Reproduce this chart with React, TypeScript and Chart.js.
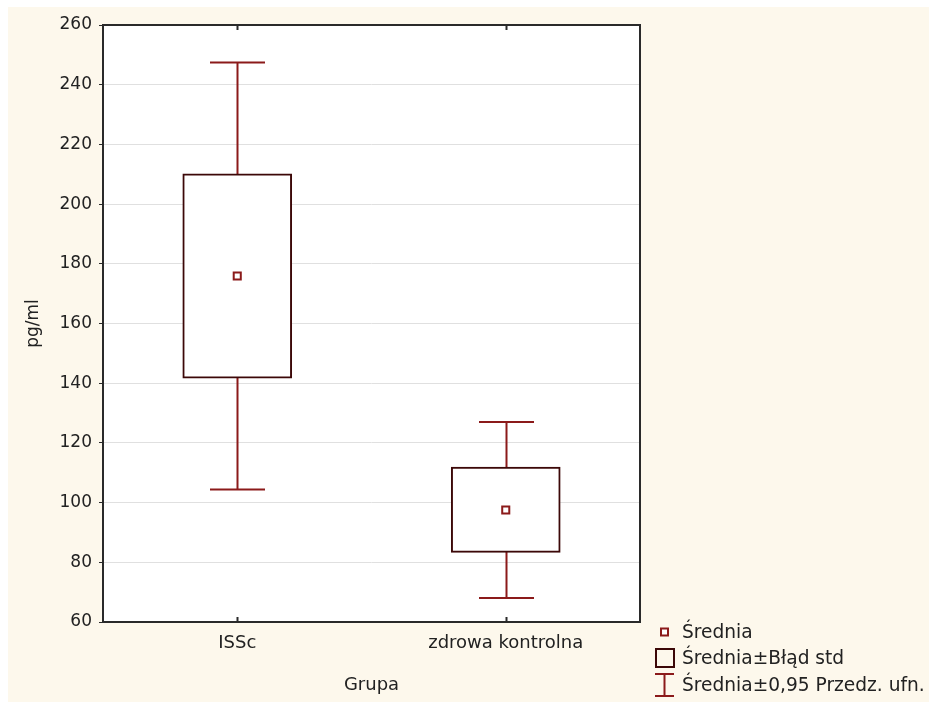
import React, { useEffect, useRef } from "react";
import { Chart, registerables } from "chart.js";

Chart.register(...registerables);

const categories = ["ISSc", "zdrowa kontrolna"];
const means = [175.9, 97.5];
const seLow = [141.7, 83.3];
const seHigh = [210.1, 111.9];
const ciLow = [104.4, 68.0];
const ciHigh = [247.4, 127.0];
const yMin = 60;
const yMax = 260;
const yStep = 20;
const yTitle = "pg/ml";
const xTitle = "Grupa";
const legendLabels = ["Średnia", "Średnia±Błąd std", "Średnia±0,95 Przedz. ufn."];

const FONT = "'DejaVu Sans', 'Liberation Sans', Arial, sans-serif";
const CREAM = "#fdf8ec";
const WHISK = "#8b1a1a";
const BOXC = "#3c0808";
const TEXT = "#222222";

const boxPlugin = {
  id: "boxPlugin",
  beforeDraw(chart: any) {
    const { ctx, chartArea: a, width, height } = chart;
    ctx.save();
    ctx.fillStyle = CREAM;
    ctx.fillRect(0, 0, width, height);
    ctx.fillStyle = "#ffffff";
    ctx.fillRect(a.left, a.top, a.right - a.left, a.bottom - a.top);
    ctx.restore();
  },
  beforeDatasetsDraw(chart: any) {
    const { ctx } = chart;
    const xs = chart.scales.x;
    const ys = chart.scales.y;
    ctx.save();
    ctx.strokeStyle = WHISK;
    ctx.lineWidth = 2;
    categories.forEach((_, i) => {
      const x = Math.round(xs.getPixelForValue(i)) + 0.5;
      const yl = ys.getPixelForValue(ciLow[i]);
      const yh = ys.getPixelForValue(ciHigh[i]);
      const cap = 27.5;
      ctx.beginPath();
      ctx.moveTo(x, yl);
      ctx.lineTo(x, yh);
      ctx.moveTo(x - cap, yl);
      ctx.lineTo(x + cap, yl);
      ctx.moveTo(x - cap, yh);
      ctx.lineTo(x + cap, yh);
      ctx.stroke();
    });
    ctx.restore();
  },
  afterDatasetsDraw(chart: any) {
    const { ctx, chartArea: a } = chart;
    const xs = chart.scales.x;
    ctx.save();
    ctx.strokeStyle = "#2a2a2a";
    ctx.lineWidth = 2;
    ctx.strokeRect(a.left, a.top, a.right - a.left, a.bottom - a.top);
    categories.forEach((_, i) => {
      const x = Math.round(xs.getPixelForValue(i)) + 0.5;
      ctx.beginPath();
      ctx.moveTo(x, a.top);
      ctx.lineTo(x, a.top + 5);
      ctx.moveTo(x, a.bottom);
      ctx.lineTo(x, a.bottom - 5);
      ctx.stroke();
    });

    // legend
    const lx = a.right + 15;
    const tx = a.right + 42;
    const rows = [a.bottom + 10, a.bottom + 36, a.bottom + 63];
    ctx.fillStyle = TEXT;
    ctx.font = `18.6px ${FONT}`;
    ctx.textBaseline = "middle";
    ctx.textAlign = "left";
    legendLabels.forEach((t, i) => ctx.fillText(t, tx, rows[i] + 1));
    const cx = lx + 9.5;
    ctx.strokeStyle = WHISK;
    ctx.lineWidth = 2;
    ctx.fillStyle = "#fff";
    ctx.fillRect(cx - 3.5, rows[0] - 3.5, 7, 7);
    ctx.strokeRect(cx - 3.5, rows[0] - 3.5, 7, 7);
    ctx.strokeStyle = BOXC;
    ctx.strokeRect(lx + 1, rows[1] - 9, 18, 18);
    ctx.strokeStyle = WHISK;
    ctx.beginPath();
    ctx.moveTo(lx, rows[2] - 11);
    ctx.lineTo(lx + 19, rows[2] - 11);
    ctx.moveTo(cx, rows[2] - 11);
    ctx.lineTo(cx, rows[2] + 11);
    ctx.moveTo(lx, rows[2] + 11);
    ctx.lineTo(lx + 19, rows[2] + 11);
    ctx.stroke();
    ctx.restore();
  },
};

export default function App() {
  const ref = useRef<HTMLCanvasElement | null>(null);
  useEffect(() => {
    if (!ref.current) return;
    const fTick = { family: FONT, size: 17 };
    const fX = { family: FONT, size: 18 };
    const chart = new Chart(ref.current, {
      type: "bar",
      data: {
        labels: categories,
        datasets: [
          {
            type: "line",
            data: means,
            showLine: false,
            pointStyle: "rect",
            pointRadius: 5,
            pointBorderWidth: 2,
            pointBackgroundColor: "#ffffff",
            pointBorderColor: WHISK,
            order: 0,
          } as any,
          {
            type: "bar",
            data: categories.map((_, i) => [seLow[i], seHigh[i]]),
            backgroundColor: "#ffffff",
            borderColor: BOXC,
            borderWidth: 2,
            borderSkipped: false,
            barThickness: 109,
            order: 1,
          } as any,
        ],
      },
      options: {
        responsive: false,
        animation: false,
        devicePixelRatio: 1,
        layout: { padding: { left: 0, top: 18, right: 289, bottom: 0 } },
        plugins: { legend: { display: false }, tooltip: { enabled: false } },
        scales: {
          x: {
            type: "category",
            offset: true,
            grid: { display: false, drawTicks: false },
            border: { display: false },
            ticks: { font: fX, color: TEXT, padding: 11 },
            title: { display: true, text: xTitle, font: fX, color: TEXT, padding: { top: 0, bottom: 6 } },
            afterFit: (s: any) => {
              s.height = 80;
            },
          },
          y: {
            min: yMin,
            max: yMax,
            ticks: { stepSize: yStep, font: fTick, color: TEXT, padding: 7 },
            grid: { color: "#e0e0e0", tickColor: "#2a2a2a", tickLength: 4 },
            border: { display: false },
            title: { display: true, text: yTitle, font: fTick, color: TEXT, padding: { top: 15, bottom: 0 } },
            afterFit: (s: any) => {
              s.width = 95;
            },
          },
        },
      } as any,
      plugins: [boxPlugin],
    });
    return () => chart.destroy();
  }, []);
  return (
    <div style={{ position: "fixed", left: 8, top: 7, width: 921, height: 695, background: CREAM }}>
      <canvas ref={ref} width={921} height={695} style={{ display: "block" }} />
    </div>
  );
}
